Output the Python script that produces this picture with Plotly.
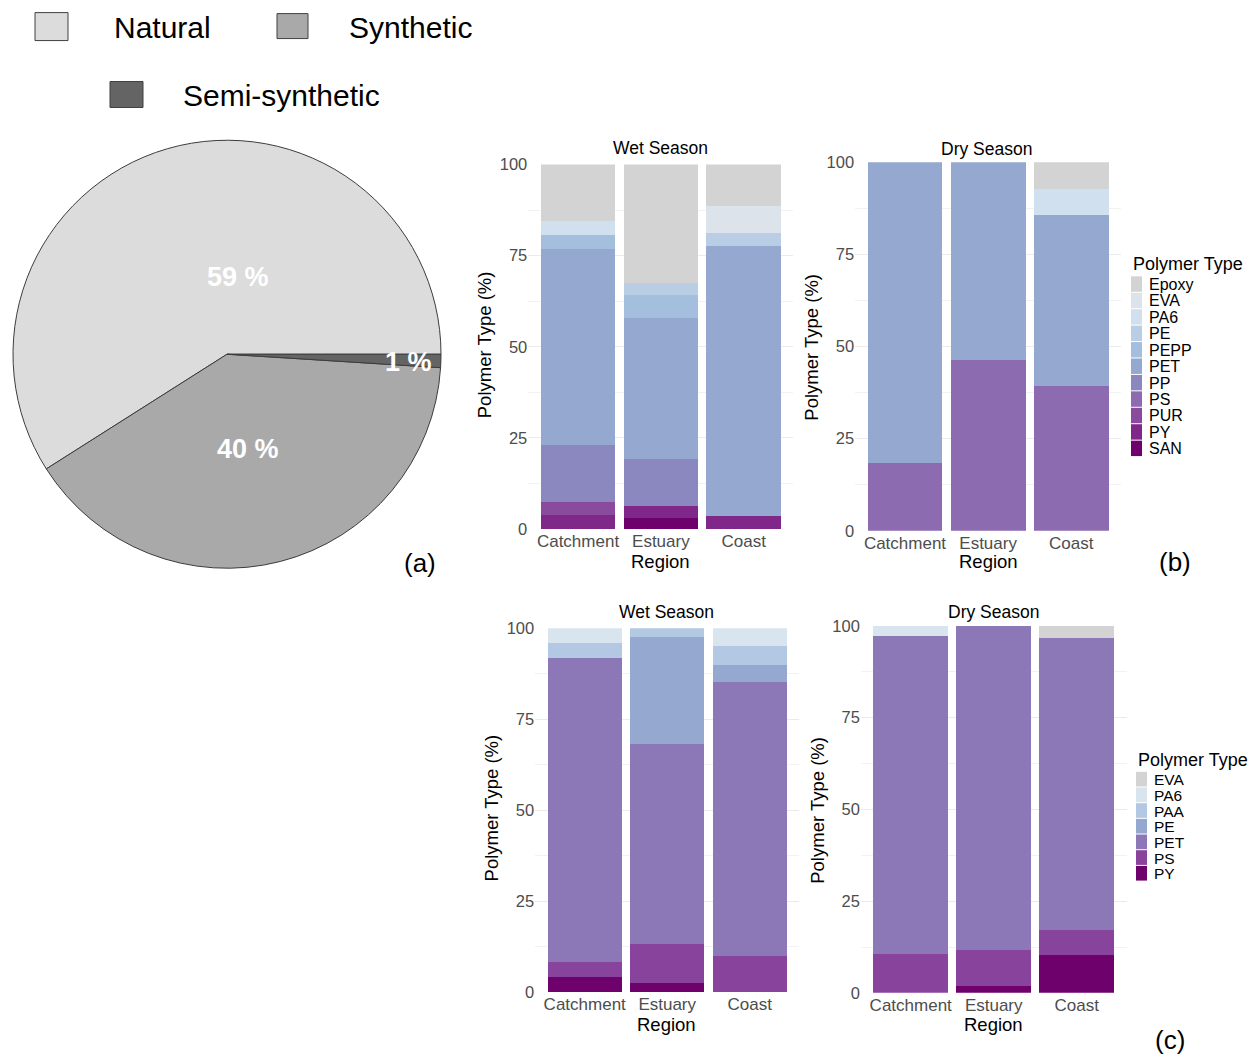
import plotly.graph_objects as go

W, H = 1259, 1057

# ---------------- data ----------------
pie_labels = ["Natural", "Synthetic", "Semi-synthetic"]
pie_values = [59, 40, 1]
pie_colors = ["#dcdcdc", "#a9a9a9", "#646464"]

regions = ["Catchment", "Estuary", "Coast"]

b_types = ["Epoxy", "EVA", "PA6", "PE", "PEPP", "PET", "PP", "PS", "PUR", "PY", "SAN"]
b_colors = ["#d3d3d3", "#dde3ea", "#d0e0ee", "#b9cde5", "#a4bfdd", "#94a8d0",
            "#8b88bf", "#8c6bb1", "#8a4a9e", "#80278a", "#6e016b"]
b_wet_catchment = [15.6, 0, 3.7, 0, 3.8, 53.9, 15.5, 0, 3.7, 3.8, 0]
b_wet_estuary = [32.5, 0, 0, 3.2, 6.4, 38.7, 12.8, 0, 0, 3.4, 3.0]
b_wet_coast = [11.3, 7.5, 0, 3.7, 0, 73.9, 0, 0, 0, 3.6, 0]
b_dry_catchment = [0, 0, 0, 0, 0, 81.6, 0, 18.4, 0, 0, 0]
b_dry_estuary = [0, 0, 0, 0, 0, 53.7, 0, 46.3, 0, 0, 0]
b_dry_coast = [7.2, 0, 7.2, 0, 0, 46.4, 0, 39.2, 0, 0, 0]

c_types = ["EVA", "PA6", "PAA", "PE", "PET", "PS", "PY"]
c_colors = ["#d3d3d3", "#d8e4ee", "#b3c9e3", "#94a8d0", "#8c78b6", "#88439c", "#6e016b"]
c_wet_catchment = [0, 4.1, 4.1, 0, 83.6, 4.1, 4.1]
c_wet_estuary = [0, 0, 2.5, 29.2, 55.0, 10.7, 2.6]
c_wet_coast = [0, 5.0, 5.0, 4.9, 75.0, 10.1, 0]
c_dry_catchment = [0, 2.7, 0, 0, 86.6, 10.7, 0]
c_dry_estuary = [0, 0, 0, 0, 88.4, 9.8, 1.8]
c_dry_coast = [3.4, 0, 0, 0, 79.6, 6.8, 10.2]

y_ticks = [0, 25, 50, 75, 100]

# ---------------- helpers ----------------
# Page positions (pixels from top-left) -> paper coordinates.
# A small vertical correction accounts for how the page is captured.
Y_SCALE, Y_OFF = 0.984, 8.4

def px(x):
    return x / W

def py(y):
    return 1 - ((y - Y_OFF) / Y_SCALE) / H

FONT = "Liberation Sans, Arial, sans-serif"
TICK_GREY = "#4d4d4d"

fig = go.Figure()

# Pie (a): first slice (Natural) starts at 3 o'clock and runs counterclockwise.
# plotly places the END of the first slice at `rotation` when counterclockwise.
first_frac = pie_values[0] / sum(pie_values)
pie_rotation = 90 - 360 * first_frac
fig.add_trace(go.Pie(
    labels=pie_labels, values=pie_values, sort=False,
    direction="counterclockwise", rotation=pie_rotation,
    marker=dict(colors=pie_colors, line=dict(color="#3c3c3c", width=1)),
    textinfo="none", hoverinfo="label+percent", showlegend=False,
    domain=dict(x=[px(13), px(441)], y=[py(354 + 218), py(354 - 218)]),
))

# Panels: (name, types, colors, [cat, est, coast], x pixel range, y0 pixel, y100 pixel)
panels = [
    ("b_wet", b_types, b_colors, [b_wet_catchment, b_wet_estuary, b_wet_coast], (528.3, 793.4), 529.0, 164.0),
    ("b_dry", b_types, b_colors, [b_dry_catchment, b_dry_estuary, b_dry_coast], (855.1, 1121.1), 530.7, 161.7),
    ("c_wet", c_types, c_colors, [c_wet_catchment, c_wet_estuary, c_wet_coast], (535.2, 799.2), 992.7, 628.3),
    ("c_dry", c_types, c_colors, [c_dry_catchment, c_dry_estuary, c_dry_coast], (860.9, 1126.5), 993.3, 626.0),
]

layout_axes = {}
for k, (name, types, cols, vals, (x0, x1), y0, y100) in enumerate(panels, start=1):
    xa = "x" if k == 1 else f"x{k}"
    ya = "y" if k == 1 else f"y{k}"
    for i in reversed(range(len(types))):
        fig.add_trace(go.Bar(
            x=regions, y=[vals[0][i], vals[1][i], vals[2][i]],
            name=types[i], marker=dict(color=cols[i], line=dict(width=0)),
            width=0.9, showlegend=False, xaxis=xa, yaxis=ya,
            hovertemplate=types[i] + ": %{y}%<extra></extra>",
        ))
    xkey = "xaxis" if k == 1 else f"xaxis{k}"
    ykey = "yaxis" if k == 1 else f"yaxis{k}"
    layout_axes[xkey] = dict(
        domain=[px(x0), px(x1)], anchor=ya, type="category",
        categoryorder="array", categoryarray=regions,
        range=[-0.6, 2.6], showgrid=False, zeroline=False, showline=False,
        ticks="", tickfont=dict(family=FONT, size=17, color=TICK_GREY),
        fixedrange=True,
    )
    layout_axes[ykey] = dict(
        domain=[py(y0), py(y100)], anchor=xa, range=[0, 100],
        tickvals=y_ticks, ticks="", showline=False, zeroline=False,
        showgrid=True, gridcolor="#ebebeb", gridwidth=1,
        minor=dict(dtick=12.5, tick0=0, showgrid=True, gridcolor="#f2f2f2", gridwidth=0.6),
        tickfont=dict(family=FONT, size=16.5, color=TICK_GREY),
        fixedrange=True,
    )

annotations = []
shapes = []

def text(x, y, s, size, color="black", xanchor="center", yanchor="middle", angle=0,
         family=FONT, weight="normal"):
    annotations.append(dict(
        x=px(x), y=py(y), xref="paper", yref="paper", text=s, showarrow=False,
        xanchor=xanchor, yanchor=yanchor, textangle=angle,
        font=dict(family=family, size=size, color=color, weight=weight),
    ))

# Panel titles / axis titles
titles = [("Wet Season", 660.7, 147.7), ("Dry Season", 986.7, 148.3),
          ("Wet Season", 666.7, 611.7), ("Dry Season", 993.3, 611.7)]
for s, x, y in titles:
    text(x, y, s, 17.5)
ylabs = [(484, 345), (811.7, 346.7), (491.7, 808), (818, 810)]
for x, y in ylabs:
    text(x, y, "Polymer Type (%)", 18.5, angle=-90)
xlabs = [(660.7, 561.7), (988, 561.7), (666.7, 1025), (993, 1025)]
for x, y in xlabs:
    text(x, y, "Region", 18.5)

# Panel letters
text(420, 563, "(a)", 26)
text(1175, 562, "(b)", 26)
text(1170, 1040, "(c)", 26)

# Pie labels
pie_label_pos = [(238, 277), (248, 449), (408, 362)]
for v, (x, y) in zip(pie_values, pie_label_pos):
    text(x, y, f"{v} %", 27, color="white",
         family="Liberation Sans Narrow, Arial Narrow, Liberation Sans, Arial",
         weight="bold")

# Pie legend (manual)
pie_leg = [(35, 12, 68, 40, 112, 27), (277, 13, 308, 38, 347, 27), (110, 81, 143, 107, 181, 95)]
for (lab, col), (x0, y0, x1, y1, tx, ty) in zip(zip(pie_labels, pie_colors), pie_leg):
    shapes.append(dict(type="rect", xref="paper", yref="paper",
                       x0=px(x0), x1=px(x1), y0=py(y1), y1=py(y0),
                       fillcolor=col, line=dict(color="#404040", width=1)))
    text(tx, ty, lab, 30, xanchor="left")

# Bar legends (manual, ggplot style)
def bar_legend(types, cols, x_sw, top, step, title_y, fsize):
    text(x_sw, title_y, "Polymer Type", 18, xanchor="left")
    for i, (t, c) in enumerate(zip(types, cols)):
        y0 = top + i * step
        shapes.append(dict(type="rect", xref="paper", yref="paper",
                           x0=px(x_sw), x1=px(x_sw + 11), y0=py(y0 + step - 1), y1=py(y0),
                           fillcolor=c, line=dict(width=0)))
        text(x_sw + 16, y0 + step / 2, t, fsize, xanchor="left")

bar_legend(b_types, b_colors, 1131, 276, 16.45, 264, 16)
bar_legend(c_types, c_colors, 1136, 772, 15.7, 760, 15.5)

fig.update_layout(
    width=W, height=H, margin=dict(l=0, r=0, t=0, b=0),
    paper_bgcolor="white", plot_bgcolor="white",
    barmode="stack", bargap=0.1,
    font=dict(family=FONT, color="black"),
    annotations=annotations, shapes=shapes,
    **layout_axes,
)

fig.write_html(
    "out.html",
    config={"displayModeBar": False},
    post_script=(
        "document.documentElement.style.margin='0';"
        "document.body.style.margin='0';document.body.style.overflow='hidden';"
        "var gd=document.getElementById('{plot_id}');"
        "gd.style.position='fixed';gd.style.left='0px';gd.style.top='0px';"
    ),
)
